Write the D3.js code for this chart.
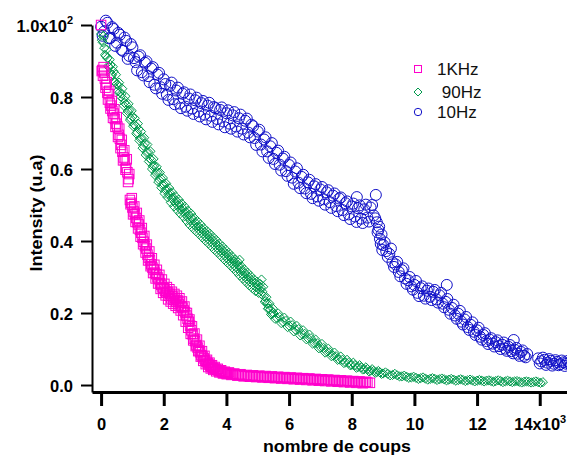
<!DOCTYPE html>
<html><head><meta charset="utf-8">
<script src="https://cdn.jsdelivr.net/npm/d3@7/dist/d3.min.js"></script>
<style>html,body{margin:0;padding:0;background:#fff;}svg{display:block;}</style>
</head><body>
<svg id="chart" width="567" height="457"></svg>
<script>
// ---- data (x = nombre de coups, y = intensity) ----
const seriesNames = ["1KHz", " 90Hz", "10Hz"];
const seriesColors = ["#ff00cc", "#009a4c", "#1010c8"];

const data1KHz = [[0,100],[40,87.5],[80,88.3],[120,85.1],[160,83.4],[200,81.2],[240,80.8],[280,78.4],[320,77.6],[360,76.1],[400,75.4],[440,73.9],[480,72.6],[520,71.8],[560,69.5],[600,68.4],[640,66.7],[680,64.8],[720,63.2],[760,62.5],[800,60.3],[840,59.1],[880,57.2],[920,51.4],[960,50.6],[1000,49.3],[1040,48.2],[1080,47.5],[1120,46.4],[1160,45.2],[1200,44.6],[1240,43.1],[1280,42.3],[1320,40.9],[1360,39.8],[1400,38.6],[1440,37.9],[1480,36.2],[1520,35.4],[1560,34.7],[1600,33.5],[1640,32.6],[1680,32.1],[1720,31.2],[1760,30.8],[1800,29.9],[1840,29.4],[1880,28.3],[1920,27.8],[1960,27.1],[2000,26.9],[2040,26.2],[2080,25.7],[2120,25.9],[2160,24.8],[2200,25.3],[2240,24.1],[2280,24.6],[2320,23.7],[2360,24.2],[2400,23.1],[2440,23.5],[2480,22.4],[2520,22.9],[2560,21.8],[2600,21.5],[2640,20.7],[2680,20.2],[2720,19.3],[2760,18.4],[2800,17.6],[2840,16.5],[2880,15.2],[2920,14.1],[2960,12.9],[3000,12.2],[3040,11.1],[3080,10.4],[3120,9.6],[3160,9.1],[3200,8.3],[3240,7.9],[3280,7.4],[3320,6.8],[3360,6.5],[3400,6.1],[3440,5.7],[3480,5.4],[3520,5.1],[3560,4.8],[3600,4.6],[3650,4.4],[3700,4.2],[3750,4.0],[3800,3.8],[3860,3.6],[3920,3.4],[3980,3.3],[4050,3.2],[4120,3.1],[4200,3.0],[4300,2.9],[4400,2.8],[4500,2.7],[4600,2.6],[4700,2.5],[4800,2.5],[4900,2.4],[5000,2.4],[5100,2.3],[5200,2.3],[5300,2.2],[5400,2.2],[5500,2.1],[5600,2.1],[5700,2.0],[5800,2.0],[5900,2.0],[6000,1.9],[6100,1.9],[6200,1.9],[6300,1.8],[6400,1.8],[6500,1.7],[6600,1.7],[6700,1.6],[6800,1.6],[6900,1.5],[7000,1.5],[7100,1.4],[7200,1.4],[7300,1.3],[7400,1.3],[7500,1.2],[7600,1.2],[7700,1.1],[7800,1.1],[7900,1.0],[8000,1.0],[8100,0.9],[8200,0.9],[8300,0.8],[8400,0.7],[8500,0.7],[8580,0.6],
[20,87.2],[60,85.9],[100,86.8],[140,82.6],[180,84.1],[220,79.3],[260,81.7],[300,76.8],[340,78.9],[380,74.2],[420,76.6],[460,71.7],[500,74.4],[540,68.9],[580,71.2],[620,65.8],[660,68.1],[700,62.4],[740,65.2],[780,59.8],[820,62.7],[860,56.4],[900,58.6],[940,50.2],[980,51.9],[1020,47.4],[1060,49.6],[1100,45.3],[1140,47.8],[1180,43.5],[1220,45.7],[1260,41.2],[1300,43.6],[1340,39.1],[1380,41.4],[1420,36.8],[1460,39.0],[1500,34.6],[1540,37.1],[1580,33.0],[1620,35.2],[1660,31.1],[1700,33.4],[1740,29.6],[1780,32.0],[1820,28.2],[1860,30.6],[1900,26.7],[1940,29.3],[1980,25.6],[2020,28.1],[2060,24.9],[2100,27.2],[2140,23.8],[2180,26.6],[2220,23.2],[2260,25.9],[2300,22.6],[2340,25.3],[2380,22.0],[2420,24.8],[2460,21.4],[2500,24.1],[2540,20.7],[2580,23.2],[2620,19.4],[2660,21.8],[2700,17.6],[2740,20.0],[2780,15.9],[2820,18.2],[2860,14.2],[2900,16.3],[2940,12.4],[2980,14.3],[3020,10.8],[3060,12.6],[3100,9.4],[3140,10.9],[3180,7.9],[3220,9.4],[3260,6.7],[3300,8.1],[3340,5.8],[3380,7.0],[3420,5.0],[3460,6.2],[3500,4.6],[3540,5.5],[3580,4.2],[3625,5.0],[3675,3.8],[3725,4.5],[3775,3.5],[3830,4.1],[3890,3.2],[3950,3.7],[4010,3.0],[4080,3.5],[4160,2.8],[4250,3.2],[4350,2.6],[4450,3.0],[4550,2.4],[4650,2.8],[4750,2.3],[4850,2.7],[4950,2.2],[5050,2.6],[5150,2.1],[5250,2.5],[5350,2.0],[5450,2.4],[5550,1.9],[5650,2.3],[5750,1.8],[5850,2.2],[5950,1.7],[6050,2.1],[6150,1.6],[6250,2.0],[6350,1.5],[6450,1.9],[6550,1.4],[6650,1.8],[6750,1.3],[6850,1.7],[6950,1.2],[7050,1.6],[7150,1.1],[7250,1.5],[7350,1.0],[7450,1.4],[7550,0.9],[7650,1.3],[7750,0.8],[7850,1.2],[7950,0.7],[8050,1.1],[8150,0.6],[8250,1.0],[8350,0.5],[8450,0.9]];

const data90Hz = [[0,97.5],[50,95.2],[100,93.6],[150,91.4],[200,90.8],[250,88.3],[300,88.9],[350,86.2],[400,87.1],[450,84.1],[500,83.6],[550,83.2],[600,81.4],[650,80.9],[700,79.6],[750,78.4],[800,77.9],[850,76.1],[900,76.3],[950,74.0],[1000,74.5],[1050,72.4],[1100,72.0],[1150,70.2],[1200,71.1],[1250,68.5],[1300,68.6],[1350,66.5],[1400,67.0],[1450,64.6],[1500,64.7],[1550,62.9],[1600,62.6],[1650,60.8],[1700,60.9],[1750,58.9],[1800,59.1],[1850,57.0],[1900,57.4],[1950,55.6],[2000,55.8],[2050,54.2],[2100,54.4],[2150,53.0],[2200,53.3],[2250,51.9],[2300,52.1],[2350,50.8],[2400,51.2],[2450,49.8],[2500,50.3],[2550,48.7],[2600,49.2],[2650,47.8],[2700,48.1],[2750,46.8],[2800,47.3],[2850,45.7],[2900,46.3],[2950,44.6],[3000,45.2],[3050,43.9],[3100,44.1],[3150,42.9],[3200,43.4],[3250,42.0],[3300,42.5],[3350,41.1],[3400,41.7],[3450,40.3],[3500,40.8],[3550,39.4],[3600,40.0],[3650,38.6],[3700,39.0],[3750,37.7],[3800,38.2],[3850,36.8],[3900,37.3],[3950,35.9],[4000,36.5],[4050,35.0],[4100,35.6],[4150,34.1],[4200,34.7],[4250,33.2],[4300,33.9],[4350,32.4],[4400,33.0],[4420,34.8],[4450,31.4],[4500,31.9],[4550,30.4],[4600,31.0],[4650,29.5],[4700,30.1],[4750,28.7],[4800,29.2],[4850,27.9],[4900,28.4],[4950,27.1],[5000,27.7],[5050,26.5],[5100,27.0],[5120,29.3],[5150,25.9],[5200,24.6],[5250,23.4],[5300,22.6],[5350,21.3],[5400,21.0],[5450,19.9],[5500,20.0],[5600,18.7],[5700,18.9],[5800,17.6],[5900,17.8],[6000,16.5],[6100,16.6],[6200,15.4],[6300,15.5],[6400,14.3],[6500,14.2],[6600,13.0],[6700,13.0],[6800,11.7],[6900,11.6],[7000,10.5],[7100,10.3],[7200,9.3],[7300,9.1],[7400,8.2],[7500,8.0],[7600,7.1],[7700,7.0],[7800,6.3],[7900,6.2],[8000,5.6],[8100,5.5],[8200,5.0],[8300,4.9],[8400,4.4],[8500,4.4],[8600,4.0],[8700,3.9],[8800,3.6],[8900,3.5],[9000,3.2],[9150,3.1],[9300,2.8],[9450,2.7],[9600,2.4],[9750,2.3],[9900,2.1],[10050,2.0],[10200,1.9],[10350,1.8],[10500,1.7],[10650,1.7],[10800,1.6],[10950,1.6],[11100,1.5],[11250,1.5],[11400,1.4],[11550,1.4],[11700,1.3],[11850,1.3],[12000,1.2],[12150,1.2],[12300,1.2],[12450,1.1],[12600,1.1],[12750,1.1],[12900,1.0],[13050,1.0],[13200,1.0],[13350,0.9],[13500,0.9],[13650,0.9],[13800,0.8],[13950,0.8],[14100,0.8],
[25,95.8],[75,96.9],[125,91.7],[175,93.2],[225,88.6],[275,90.4],[325,85.9],[375,88.4],[425,84.3],[475,86.2],[525,81.6],[575,84.0],[625,80.1],[675,82.3],[725,77.6],[775,80.2],[825,75.5],[875,78.1],[925,73.6],[975,76.2],[1025,71.9],[1075,74.1],[1125,69.8],[1175,72.6],[1225,67.9],[1275,70.4],[1325,65.8],[1375,68.7],[1425,63.9],[1475,66.8],[1525,62.1],[1575,64.9],[1625,60.0],[1675,62.8],[1725,58.3],[1775,60.6],[1825,56.4],[1875,59.0],[1925,54.8],[1975,57.5],[2025,53.2],[2075,56.0],[2125,52.1],[2175,54.7],[2225,50.7],[2275,53.5],[2325,49.6],[2375,52.4],[2425,48.6],[2475,51.5],[2525,47.6],[2575,50.4],[2625,46.7],[2675,49.5],[2725,45.6],[2775,48.4],[2825,44.5],[2875,47.6],[2925,43.6],[2975,46.4],[3025,42.7],[3075,45.5],[3125,41.9],[3175,44.6],[3225,41.0],[3275,43.6],[3325,40.1],[3375,42.8],[3425,39.3],[3475,42.0],[3525,38.4],[3575,41.1],[3625,37.5],[3675,40.3],[3725,36.7],[3775,39.3],[3825,35.8],[3875,38.5],[3925,34.9],[3975,37.6],[4025,34.0],[4075,36.7],[4125,33.2],[4175,35.8],[4225,32.3],[4275,34.9],[4325,31.4],[4375,34.1],[4425,30.4],[4475,33.0],[4525,29.5],[4575,32.1],[4625,28.6],[4675,31.2],[4725,27.7],[4775,30.3],[4825,26.9],[4875,29.4],[4925,26.1],[4975,28.7],[5025,25.6],[5075,28.1],[5125,25.2],[5175,27.3],[5225,23.1],[5275,24.4],[5325,21.2],[5375,22.6],[5425,19.6],[5475,21.3],[5550,18.4],[5650,19.9],[5750,17.2],[5850,18.7],[5950,16.1],[6050,17.6],[6150,14.9],[6250,16.4],[6350,13.8],[6450,15.2],[6550,12.7],[6650,14.0],[6750,11.5],[6850,12.6],[6950,10.2],[7050,11.4],[7150,9.0],[7250,10.1],[7350,8.0],[7450,9.0],[7550,7.0],[7650,7.9],[7750,6.1],[7850,7.0],[7950,5.5],[8050,6.2],[8150,4.8],[8250,5.5],[8350,4.3],[8450,4.9],[8550,3.8],[8650,4.4],[8750,3.4],[8850,3.9],[8950,3.1],[9075,3.5],[9225,2.7],[9375,3.1],[9525,2.4],[9675,2.6],[9825,2.0],[9975,2.3],[10125,1.7],[10275,2.1],[10425,1.5],[10575,1.9],[10725,1.4],[10875,1.8],[11025,1.3],[11175,1.7],[11325,1.2],[11475,1.6],[11625,1.1],[11775,1.5],[11925,1.0],[12075,1.4],[12225,1.0],[12375,1.3],[12525,0.9],[12675,1.3],[12825,0.8],[12975,1.2],[13125,0.8],[13275,1.1],[13425,0.7],[13575,1.0],[13725,0.7],[13875,1.0],[14025,0.6]];

const data10Hz = [[0,99.5],[100,98.2],[200,100.6],[300,96.4],[400,98.9],[500,95.1],[600,97.3],[700,92.8],[800,95.6],[900,91.4],[1000,93.8],[1100,89.7],[1200,91.2],[1300,86.9],[1400,89.5],[1500,85.8],[1600,87.9],[1700,83.4],[1800,86.2],[1900,82.7],[2000,84.9],[2100,80.6],[2200,83.1],[2300,79.4],[2400,81.8],[2500,78.2],[2600,80.9],[2700,77.3],[2800,79.6],[2900,76.8],[3000,79.1],[3100,75.9],[3200,78.3],[3300,75.1],[3400,77.6],[3500,74.8],[3600,77.2],[3700,73.9],[3800,76.4],[3900,73.2],[4000,75.5],[4100,72.6],[4200,74.9],[4300,71.8],[4400,74.1],[4500,71.2],[4600,73.4],[4700,70.1],[4800,72.3],[4900,68.6],[5000,70.4],[5100,66.8],[5200,68.2],[5300,64.9],[5400,66.3],[5500,62.8],[5600,64.5],[5700,61.2],[5800,62.9],[5900,59.4],[6000,61.1],[6100,57.6],[6200,59.3],[6300,56.2],[6400,57.8],[6500,54.6],[6600,56.3],[6700,53.1],[6800,55.2],[6900,52.4],[7000,54.3],[7100,51.6],[7200,53.5],[7300,50.8],[7400,52.6],[7500,49.7],[7600,51.8],[7700,48.6],[7800,50.5],[7900,47.4],[8000,49.6],[8100,46.8],[8163,52.2],[8200,49.1],[8300,46.2],[8400,48.8],[8500,46.5],[8600,49.3],[8700,47.1],[8769,52.8],[8800,45.2],[8850,43.1],[8900,40.6],[8950,41.8],[9000,38.9],[9100,37.2],[9200,36.4],[9300,34.1],[9400,33.5],[9500,31.4],[9600,31.9],[9700,29.6],[9800,29.1],[9900,27.4],[10000,27.8],[10100,25.6],[10200,26.9],[10300,24.8],[10400,26.2],[10500,24.5],[10600,25.9],[10700,23.8],[10800,24.9],[10900,22.6],[11000,23.1],[11033,27.8],[11100,20.9],[11200,21.4],[11300,19.3],[11400,19.8],[11500,17.6],[11600,18.2],[11700,16.1],[11800,16.7],[11900,14.8],[12000,15.2],[12100,13.4],[12200,13.9],[12300,12.2],[12400,12.6],[12500,11.5],[12600,11.9],[12700,10.8],[12800,11.2],[12900,10.1],[13000,10.6],[13100,9.4],[13170,12.5],[13200,9.8],[13300,8.7],[13400,9.2],[13500,8.1],[13600,8.6],[13950,7.4],[14050,6.6],[14150,7.0],[14250,6.2],[14350,6.7],[14450,5.9],[14550,6.4],[14650,5.8],[14750,6.3],[14850,5.9],[14950,6.2],[15050,5.7],
[50,97.0],[150,101.2],[250,96.3],[350,99.4],[450,94.2],[550,97.8],[650,93.1],[750,96.5],[850,90.6],[950,94.7],[1050,90.8],[1150,87.4],[1250,91.6],[1350,86.0],[1450,89.9],[1550,84.1],[1650,88.3],[1750,82.4],[1850,86.7],[1950,80.9],[2050,83.6],[2150,79.2],[2250,84.0],[2350,78.0],[2450,82.6],[2550,76.9],[2650,81.3],[2750,76.2],[2850,80.7],[2950,75.3],[3050,79.8],[3150,74.6],[3250,78.9],[3350,73.8],[3450,78.4],[3550,73.1],[3650,76.9],[3750,72.4],[3850,77.1],[3950,71.6],[4050,76.3],[4150,71.2],[4250,75.8],[4350,70.4],[4450,75.1],[4550,69.6],[4650,74.0],[4750,68.8],[4850,71.9],[4950,66.7],[5050,70.9],[5150,64.9],[5250,68.8],[5350,63.1],[5450,67.2],[5550,61.4],[5650,65.1],[5750,59.6],[5850,63.4],[5950,58.1],[6050,61.8],[6150,55.9],[6250,60.2],[6350,54.7],[6450,58.4],[6550,53.3],[6650,57.0],[6750,51.9],[6850,55.8],[6950,51.2],[7050,55.0],[7150,50.1],[7250,54.1],[7350,49.2],[7450,53.2],[7550,48.3],[7650,52.1],[7750,47.2],[7850,51.0],[7950,46.1],[8050,50.4],[8150,45.3],[8250,49.9],[8350,45.0],[8450,50.1],[8550,45.4],[8650,50.0],[8750,46.3],[8825,42.4],[8875,44.0],[8925,39.2],[8975,37.5],[9050,39.6],[9150,35.6],[9250,37.9],[9350,32.8],[9450,34.2],[9550,30.2],[9650,32.4],[9750,28.1],[9850,30.0],[9950,26.5],[10050,28.9],[10150,24.7],[10250,27.4],[10350,24.0],[10450,26.8],[10550,23.6],[10650,26.4],[10750,22.9],[10850,25.6],[10950,21.6],[11050,23.9],[11150,19.8],[11250,22.3],[11350,18.4],[11450,20.6],[11550,16.8],[11650,18.9],[11750,15.3],[11850,17.4],[11950,13.9],[12050,15.9],[12150,12.6],[12250,14.4],[12350,11.4],[12450,13.0],[12550,10.7],[12650,12.4],[12750,10.0],[12850,11.8],[12950,9.5],[13050,11.1],[13150,8.8],[13250,10.3],[13350,8.1],[13450,9.6],[13550,7.7],[14000,6.0],[14100,7.6],[14200,5.6],[14300,7.2],[14400,5.4],[14500,6.9],[14600,5.5],[14700,6.8],[14800,5.3],[14900,6.7],[15000,5.4]];

const xTickValues = [0,2000,4000,6000,8000,10000,12000,14000];
const xTickLabels = ["0","2","4","6","8","10","12","14x10"];
const xTickExp = ["","","","","","","","3"];
const yTickValues = [0,20,40,60,80,100];
const yTickLabels = ["0.0","0.2","0.4","0.6","0.8","1.0x10"];
const yTickExp = ["","","","","","2"];
const xTitle = "nombre de coups";
const yTitle = "Intensity (u.a)";

// ---- drawing ----
const svg = d3.select("#chart");
const FONT = "'Liberation Sans', Arial, Helvetica, sans-serif";
const x = d3.scaleLinear().domain([-290, 14870]).range([92, 567]);
const y = d3.scaleLinear().domain([-1.94, 100]).range([392, 25]);

// x axis
const xAxisG = svg.append("g").attr("transform", "translate(0,392)")
  .call(d3.axisBottom(x).tickValues(xTickValues).tickSize(14).tickSizeOuter(0).tickFormat(""));
xAxisG.select(".domain").attr("stroke", "#000").attr("stroke-width", 3);
xAxisG.selectAll(".tick line").attr("stroke", "#000").attr("stroke-width", 3);
xAxisG.selectAll(".tick").each(function(d, i) {
  const t = d3.select(this).append("text")
    .attr("x", 0).attr("y", 38).attr("text-anchor", "middle")
    .attr("fill", "#000").attr("font-family", FONT).attr("font-weight", "bold").attr("font-size", 16.5);
  t.append("tspan").text(xTickLabels[i]);
  if (xTickExp[i]) t.append("tspan").attr("dy", -7).attr("font-size", 11).text(xTickExp[i]);
});

// y axis
const yAxisG = svg.append("g").attr("transform", "translate(92,0)")
  .call(d3.axisLeft(y).tickValues(yTickValues).tickSize(11).tickSizeOuter(0).tickFormat(""));
yAxisG.select(".domain").attr("stroke", "#000").attr("stroke-width", 2);
yAxisG.selectAll(".tick line").attr("stroke", "#000").attr("stroke-width", 2);
yAxisG.selectAll(".tick").each(function(d, i) {
  const t = d3.select(this).append("text")
    .attr("x", -19).attr("y", 6).attr("text-anchor", "end")
    .attr("fill", "#000").attr("font-family", FONT).attr("font-weight", "bold").attr("font-size", 16.5);
  t.append("tspan").text(yTickLabels[i]);
  if (yTickExp[i]) t.append("tspan").attr("dy", -8).attr("font-size", 11).text(yTickExp[i]);
});

// titles
svg.append("text").attr("x", 337).attr("y", 452).attr("text-anchor", "middle")
  .attr("font-family", FONT).attr("font-weight", "bold").attr("font-size", 16.5)
  .attr("textLength", 148).attr("lengthAdjust", "spacingAndGlyphs").text(xTitle);
svg.append("text").attr("transform", "translate(42,213) rotate(-90)").attr("text-anchor", "middle")
  .attr("font-family", FONT).attr("font-weight", "bold").attr("font-size", 16)
  .attr("textLength", 117).attr("lengthAdjust", "spacingAndGlyphs").text(yTitle);

// markers
function drawSquares(g, pts, color, s) {
  g.selectAll("rect").data(pts).enter().append("rect")
    .attr("x", d => x(d[0]) - s / 2).attr("y", d => y(d[1]) - s / 2)
    .attr("width", s).attr("height", s)
    .attr("fill", "none").attr("stroke", color).attr("stroke-width", 1);
}
function drawDiamonds(g, pts, color, h) {
  g.selectAll("path").data(pts).enter().append("path")
    .attr("d", d => `M${x(d[0])},${y(d[1]) - h}L${x(d[0]) + h},${y(d[1])}L${x(d[0])},${y(d[1]) + h}L${x(d[0]) - h},${y(d[1])}Z`)
    .attr("fill", "none").attr("stroke", color).attr("stroke-width", 1);
}
function drawCircles(g, pts, color, r) {
  g.selectAll("circle").data(pts).enter().append("circle")
    .attr("cx", d => x(d[0])).attr("cy", d => y(d[1])).attr("r", r)
    .attr("fill", "none").attr("stroke", color).attr("stroke-width", 1);
}
drawCircles(svg.append("g"), data10Hz, seriesColors[2], 5.5);
drawDiamonds(svg.append("g"), data90Hz, seriesColors[1], 4.6);
drawSquares(svg.append("g"), data1KHz, seriesColors[0], 9.5);

// legend
const leg = svg.append("g");
const legY = [69, 92, 112];
leg.append("rect").attr("x", 418 - 3.5).attr("y", legY[0] - 3.5).attr("width", 7).attr("height", 7)
  .attr("fill", "none").attr("stroke", seriesColors[0]).attr("stroke-width", 1);
leg.append("path").attr("d", `M418,${legY[1] - 4}L422,${legY[1]}L418,${legY[1] + 4}L414,${legY[1]}Z`)
  .attr("fill", "none").attr("stroke", seriesColors[1]).attr("stroke-width", 1);
leg.append("circle").attr("cx", 418).attr("cy", legY[2]).attr("r", 3.7)
  .attr("fill", "none").attr("stroke", seriesColors[2]).attr("stroke-width", 1);
seriesNames.forEach((n, i) => {
  leg.append("text").attr("x", 437).attr("y", legY[i] + 6)
    .attr("font-family", FONT).attr("font-size", 17).attr("fill", "#111")
    .attr("xml:space", "preserve").style("white-space", "pre").text(n);
});
</script>
</body></html>
